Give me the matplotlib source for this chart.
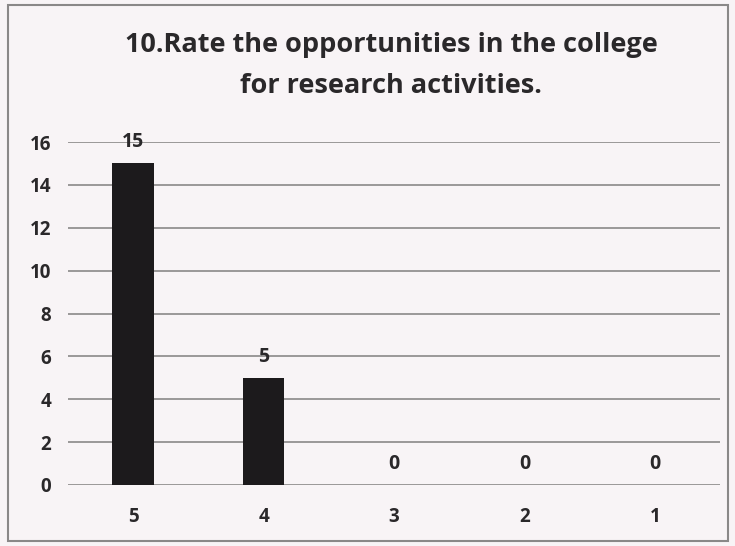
import matplotlib.pyplot as plt
from matplotlib.patches import Rectangle

ratings = ['5', '4', '3', '2', '1']
counts = [15, 5, 0, 0, 0]
yticks = [0, 2, 4, 6, 8, 10, 12, 14, 16]

plt.rcParams['font.family'] = ['Open Sans', 'DejaVu Sans']

fig = plt.figure(figsize=(7.35, 5.46), dpi=100, facecolor='#f8f4f6')
ax = fig.add_axes([68/735, 1-485/546, 652/735, (485-142)/546])
ax.set_facecolor('#f8f4f6')

x = range(len(ratings))
bars = ax.bar(x, counts, width=0.32, color='#1c1a1c', zorder=3)
for xi, c in zip(x, counts):
    ax.annotate(str(c), (xi, c), xytext=(0, 8), textcoords='offset points',
                ha='center', va='bottom', fontsize=14, fontweight='bold',
                color='#2a282a', zorder=4)

ax.set_xlim(-0.5, len(ratings) - 0.5)
ax.set_ylim(0, 16)
ax.set_yticks(yticks)
ax.set_xticks(list(x))
ax.set_xticklabels(ratings)
ax.yaxis.grid(True, color='#8a8888', linewidth=1.2, zorder=0)
ax.tick_params(length=0, labelsize=13.5, colors='#2a282a')
ax.tick_params(axis='x', pad=16)
ax.tick_params(axis='y', pad=12)
for lab in ax.get_xticklabels() + ax.get_yticklabels():
    lab.set_fontweight('bold')
for s in ax.spines.values():
    s.set_visible(False)

fig.text(0.532, 1-45/546, '10.Rate the opportunities in the college', ha='center',
         va='center', fontsize=19.5, fontweight='bold', color='#2a282a')
fig.text(0.532, 1-86/546, 'for research activities.', ha='center',
         va='center', fontsize=19.5, fontweight='bold', color='#2a282a')

fig.patches.append(Rectangle((8/735, 5/546), 720/735, 536/546, transform=fig.transFigure,
                             fill=False, edgecolor='#8a8888', linewidth=1.5))

fig.savefig('out.png', dpi=100, facecolor=fig.get_facecolor())
